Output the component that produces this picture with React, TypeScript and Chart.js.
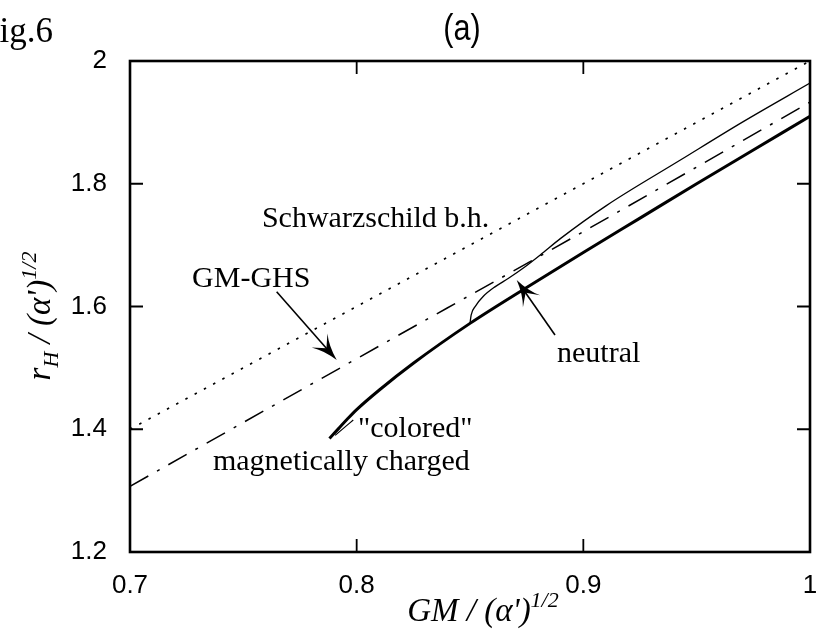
import React, { useEffect, useRef } from "react";
import { Chart, registerables } from "chart.js";

Chart.register(...registerables);

// ---- data ----
const xTicks = [0.7, 0.8, 0.9, 1.0];
const yTicks = [1.2, 1.4, 1.6, 1.8, 2.0];

// Schwarzschild black hole: r_H = 2GM
const schwX = [0.7, 1.0];
const schwY = [1.4, 2.0];

// GM-GHS
const ghsX = [0.7, 0.8, 0.9, 1.0];
const ghsY = [1.307, 1.515, 1.722, 1.933];

// "colored" magnetically charged (thick)
const coloredX = [0.788, 0.792, 0.796, 0.8, 0.81, 0.825, 0.85, 0.875, 0.9, 0.925, 0.95, 0.975, 1.0];
const coloredY = [1.385, 1.401, 1.417, 1.432, 1.464, 1.5075, 1.5725, 1.631, 1.688, 1.744, 1.8, 1.855, 1.91];

// short thin companion branch near the end point of the colored curve
const coloredThinX = [0.7905, 0.794, 0.7985];
const coloredThinY = [1.39, 1.401, 1.415];

// neutral (thin)
const neutralX = [0.85, 0.8505, 0.8525, 0.856, 0.861, 0.867, 0.874, 0.881, 0.89, 0.91, 0.943, 0.97, 1.0];
const neutralY = [1.5725, 1.586, 1.601, 1.617, 1.632, 1.646, 1.664, 1.684, 1.711, 1.764, 1.839, 1.9, 1.964];

// annotation labels (data coords of left end of baseline)
const labels = [
  { text: "Schwarzschild b.h.", x: 0.7582, y: 1.7295 },
  { text: "GM-GHS", x: 0.7274, y: 1.6318 },
  { text: "neutral", x: 0.8884, y: 1.5096 },
  { text: "\"colored\"", x: 0.8006, y: 1.3874 },
  { text: "magnetically charged", x: 0.7366, y: 1.3336 },
];

// arrows: tail -> tip (data coords)
const arrows = [
  { x0: 0.7647, y0: 1.6241, x1: 0.7912, y1: 1.5128 },
  { x0: 0.8875, y0: 1.5536, x1: 0.8706, y1: 1.6432 },
];

const pts = (xs: number[], ys: number[]) => xs.map((x, i) => ({ x, y: ys[i] }));
const fmt = (v: number) => String(Number(v.toFixed(2)));

const SERIF = "'Liberation Serif', 'Times New Roman', serif";
const SANS = "'Liberation Sans', Arial, sans-serif";

type Run = { t: string; size: number; dy: number };

function drawRuns(ctx: CanvasRenderingContext2D, runs: Run[], cx: number, cy: number) {
  let total = 0;
  for (const r of runs) {
    ctx.font = `italic ${r.size}px ${SERIF}`;
    total += ctx.measureText(r.t).width;
  }
  let x = cx - total / 2;
  for (const r of runs) {
    ctx.font = `italic ${r.size}px ${SERIF}`;
    ctx.fillText(r.t, x, cy + r.dy);
    x += ctx.measureText(r.t).width;
  }
}

function arrowHead(ctx: CanvasRenderingContext2D, x0: number, y0: number, x1: number, y1: number) {
  const dx = x1 - x0, dy = y1 - y0;
  const len = Math.hypot(dx, dy);
  const ux = dx / len, uy = dy / len;
  const nx = -uy, ny = ux;
  const L = 26, W = 10.5;
  ctx.beginPath();
  ctx.moveTo(x1, y1);
  ctx.quadraticCurveTo(x1 - ux * L * 0.6 + nx * W * 0.3, y1 - uy * L * 0.6 + ny * W * 0.3, x1 - ux * L + nx * W, y1 - uy * L + ny * W);
  ctx.lineTo(x1 - ux * L * 0.6, y1 - uy * L * 0.6);
  ctx.lineTo(x1 - ux * L - nx * W, y1 - uy * L - ny * W);
  ctx.quadraticCurveTo(x1 - ux * L * 0.6 - nx * W * 0.3, y1 - uy * L * 0.6 - ny * W * 0.3, x1, y1);
  ctx.closePath();
  ctx.fill();
}

const decorations = {
  id: "decorations",
  afterDraw(chart: any) {
    const { ctx, chartArea: a, scales } = chart;
    const sx = scales.x, sy = scales.y;
    ctx.save();
    ctx.fillStyle = "#000";
    ctx.strokeStyle = "#000";

    // frame
    ctx.lineWidth = 2.6;
    ctx.strokeRect(a.left, a.top, a.right - a.left, a.bottom - a.top);

    // inward ticks on all four sides
    ctx.lineWidth = 1.8;
    const T = 13;
    ctx.beginPath();
    for (const v of xTicks.slice(1, -1)) {
      const px = sx.getPixelForValue(v);
      ctx.moveTo(px, a.bottom); ctx.lineTo(px, a.bottom - T);
      ctx.moveTo(px, a.top); ctx.lineTo(px, a.top + T);
    }
    for (const v of yTicks.slice(1, -1)) {
      const py = sy.getPixelForValue(v);
      ctx.moveTo(a.left, py); ctx.lineTo(a.left + T, py);
      ctx.moveTo(a.right, py); ctx.lineTo(a.right - T, py);
    }
    ctx.stroke();

    // annotation labels
    ctx.font = `30px ${SERIF}`;
    ctx.textAlign = "left";
    ctx.textBaseline = "alphabetic";
    for (const l of labels) {
      ctx.fillText(l.text, sx.getPixelForValue(l.x), sy.getPixelForValue(l.y));
    }

    // arrows
    ctx.lineWidth = 1.6;
    for (const ar of arrows) {
      const x0 = sx.getPixelForValue(ar.x0), y0 = sy.getPixelForValue(ar.y0);
      const x1 = sx.getPixelForValue(ar.x1), y1 = sy.getPixelForValue(ar.y1);
      const d = Math.hypot(x1 - x0, y1 - y0);
      ctx.beginPath();
      ctx.moveTo(x0, y0);
      ctx.lineTo(x1 - ((x1 - x0) / d) * 14, y1 - ((y1 - y0) / d) * 14);
      ctx.stroke();
      arrowHead(ctx, x0, y0, x1, y1);
    }

    // panel title "(a)" (condensed sans)
    ctx.save();
    ctx.translate(462, 40);
    ctx.scale(0.85, 1);
    ctx.font = `36px ${SANS}`;
    ctx.textAlign = "center";
    ctx.fillText("(a)", 0, 0);
    ctx.restore();

    // figure label, partly cut off at the left
    ctx.font = `35px ${SERIF}`;
    ctx.textAlign = "left";
    ctx.fillText("Fig.6", -20, 42);

    // x axis title
    drawRuns(ctx, [
      { t: "GM / (\u03b1')", size: 33, dy: 0 },
      { t: "1/2", size: 22, dy: -14 },
    ], 483, 621);

    // y axis title (rotated)
    ctx.save();
    ctx.translate(50, 316);
    ctx.rotate(-Math.PI / 2);
    drawRuns(ctx, [
      { t: "r", size: 33, dy: 0 },
      { t: "H", size: 22, dy: 8 },
      { t: " / (\u03b1')", size: 33, dy: 0 },
      { t: "1/2", size: 22, dy: -14 },
    ], 0, 0);
    ctx.restore();

    ctx.restore();
  },
};

export default function App() {
  const ref = useRef<HTMLCanvasElement>(null);
  useEffect(() => {
    if (!ref.current) return;
    const base = {
      showLine: true,
      pointRadius: 0,
      fill: false,
      borderColor: "#000",
      cubicInterpolationMode: "monotone" as const,
    };
    const chart = new Chart(ref.current, {
      type: "scatter",
      data: {
        datasets: [
          { ...base, label: "Schwarzschild b.h.", data: pts(schwX, schwY), borderWidth: 1.6, borderDash: [2.5, 8] },
          { ...base, label: "GM-GHS", data: pts(ghsX, ghsY), borderWidth: 1.5, borderDash: [21, 10, 3, 10] },
          { ...base, label: "colored", data: pts(coloredX, coloredY), borderWidth: 3 },
          { ...base, label: "colored thin", data: pts(coloredThinX, coloredThinY), borderWidth: 1.2 },
          { ...base, label: "neutral", data: pts(neutralX, neutralY), borderWidth: 1.3 },
        ],
      },
      options: {
        animation: false,
        responsive: false,
        devicePixelRatio: 1,
        layout: { autoPadding: false, padding: { left: 0, right: 6, top: 61, bottom: 0 } },
        plugins: { legend: { display: false }, tooltip: { enabled: false }, title: { display: false } },
        scales: {
          x: {
            type: "linear",
            min: 0.7,
            max: 1.0,
            grid: { display: false },
            border: { display: false },
            ticks: {
              stepSize: 0.1,
              autoSkip: false,
              maxRotation: 0,
              color: "#000",
              padding: 10,
              font: { family: SANS, size: 26 },
              callback: (v: any) => fmt(Number(v)),
            },
            afterFit: (s: any) => {
              s.height = 81;
              s.paddingLeft = 0;
              s.paddingRight = 0;
            },
          },
          y: {
            type: "linear",
            min: 1.2,
            max: 2.0,
            grid: { display: false },
            border: { display: false },
            ticks: {
              stepSize: 0.2,
              autoSkip: false,
              color: "#000",
              padding: 15,
              font: { family: SANS, size: 26 },
              callback: (v: any) => fmt(Number(v)),
            },
            afterFit: (s: any) => {
              s.width = 130;
              s.paddingTop = 0;
              s.paddingBottom = 0;
            },
          },
        },
      },
      plugins: [decorations],
    });
    return () => chart.destroy();
  }, []);
  return (
    <div style={{ position: "absolute", left: 0, top: 0, width: 816, height: 633, background: "#fff" }}>
      <canvas ref={ref} width={816} height={633} />
    </div>
  );
}
